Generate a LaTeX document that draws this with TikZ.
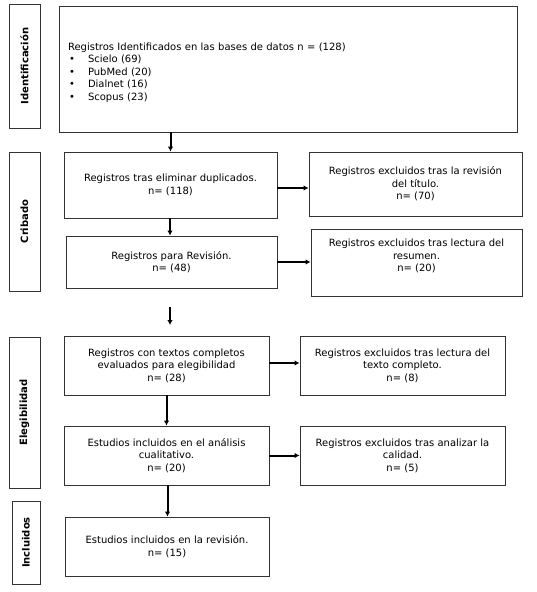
\documentclass[tikz,border=0pt]{standalone}
\usepackage{fontspec}
\setmainfont{DejaVu Sans}
\usetikzlibrary{arrows.meta}
\begin{document}
\begin{tikzpicture}[x=1pt,y=-1pt,
  box/.style={draw=black!80, line width=0.9pt, align=center, inner sep=2pt, font=\fontsize{10}{12.5}\selectfont},
  side/.style={draw=black!80, line width=0.9pt, inner sep=0pt, font=\bfseries\fontsize{10}{12}\selectfont},
  arr/.style={line width=2pt, -{Latex[length=5pt,width=5.5pt]}}]
\useasboundingbox (0,0) rectangle (537,592);
% side labels
\node[side, minimum width=31, minimum height=124] (sid) at (24.5,66) {\rotatebox{90}{Identificación}};
\node[side, minimum width=31, minimum height=139] (scr) at (24.5,221.5) {\rotatebox{90}{Cribado}};
\node[side, minimum width=31, minimum height=151] (sel) at (24.5,412.5) {\rotatebox{90}{Elegibilidad}};
\node[side, minimum width=28, minimum height=83] (sin) at (26,542.5) {\rotatebox{90}{Incluidos}};
% identification
\node[box, minimum width=458, minimum height=126, text width=440, align=left, inner sep=9pt] (ident) at (288,69)
 {\rule{0pt}{15pt}Registros Identificados en las bases de datos n = (128)\\
  \makebox[20pt][l]{\hspace{1pt}\textbullet}Scielo (69)\\
  \makebox[20pt][l]{\hspace{1pt}\textbullet}PubMed (20)\\
  \makebox[20pt][l]{\hspace{1pt}\textbullet}Dialnet (16)\\
  \makebox[20pt][l]{\hspace{1pt}\textbullet}Scopus (23)};
% screening
\node[box, minimum width=213, minimum height=66] (b1) at (170.5,185) {Registros tras eliminar duplicados.\\n= (118)};
\node[box, minimum width=213, minimum height=64] (e1) at (415.5,184) {Registros excluidos tras la revisión\\del título.\\n= (70)};
\node[box, minimum width=211, minimum height=52] (b2) at (171.5,262) {Registros para Revisión.\\n= (48)};
\node[box, minimum width=211, minimum height=67] (e2) at (416.5,262.5) {Registros excluidos tras lectura del\\resumen.\\n= (20)\\[2pt]};
% eligibility
\node[box, minimum width=205, minimum height=59] (b3) at (166.5,365.5) {Registros con textos completos\\evaluados para elegibilidad\\n= (28)};
\node[box, minimum width=205, minimum height=59] (e3) at (402.5,365.5) {Registros excluidos tras lectura del\\texto completo.\\n= (8)};
\node[box, minimum width=205, minimum height=59] (b4) at (166.5,455.5) {Estudios incluidos en el análisis\\cualitativo.\\n= (20)};
\node[box, minimum width=205, minimum height=59] (e4) at (402.5,455.5) {Registros excluidos tras analizar la\\calidad.\\n= (5)};
% included
\node[box, minimum width=204, minimum height=59] (b5) at (167,546.5) {Estudios incluidos en la revisión.\\n= (15)};
% free arrow
\coordinate (fa1) at (170,307);
\coordinate (fa2) at (170,325);
% arrows
\draw[arr] (b1.north |- ident.south) -- (b1.north);
\draw[arr] ([xshift=-0.5pt]b1.south) -- ([xshift=-0.5pt]b1.south |- b2.north);
\draw[arr] (fa1) -- (fa2);
\draw[arr] (b3.south) -- (b4.north);
\draw[arr] ([xshift=1pt]b4.south) -- ([xshift=1pt]b4.south |- b5.north);
\draw[arr] ([yshift=-3pt]b1.east) -- ([yshift=-3pt]b1.east -| e1.west);
\draw[arr] (b2.east) -- (b2.east -| e2.west);
\draw[arr] ([yshift=2.5pt]b3.east) -- ([yshift=2.5pt]b3.east -| e3.west);
\draw[arr] (b4.east) -- (b4.east -| e4.west);
\end{tikzpicture}
\end{document}
